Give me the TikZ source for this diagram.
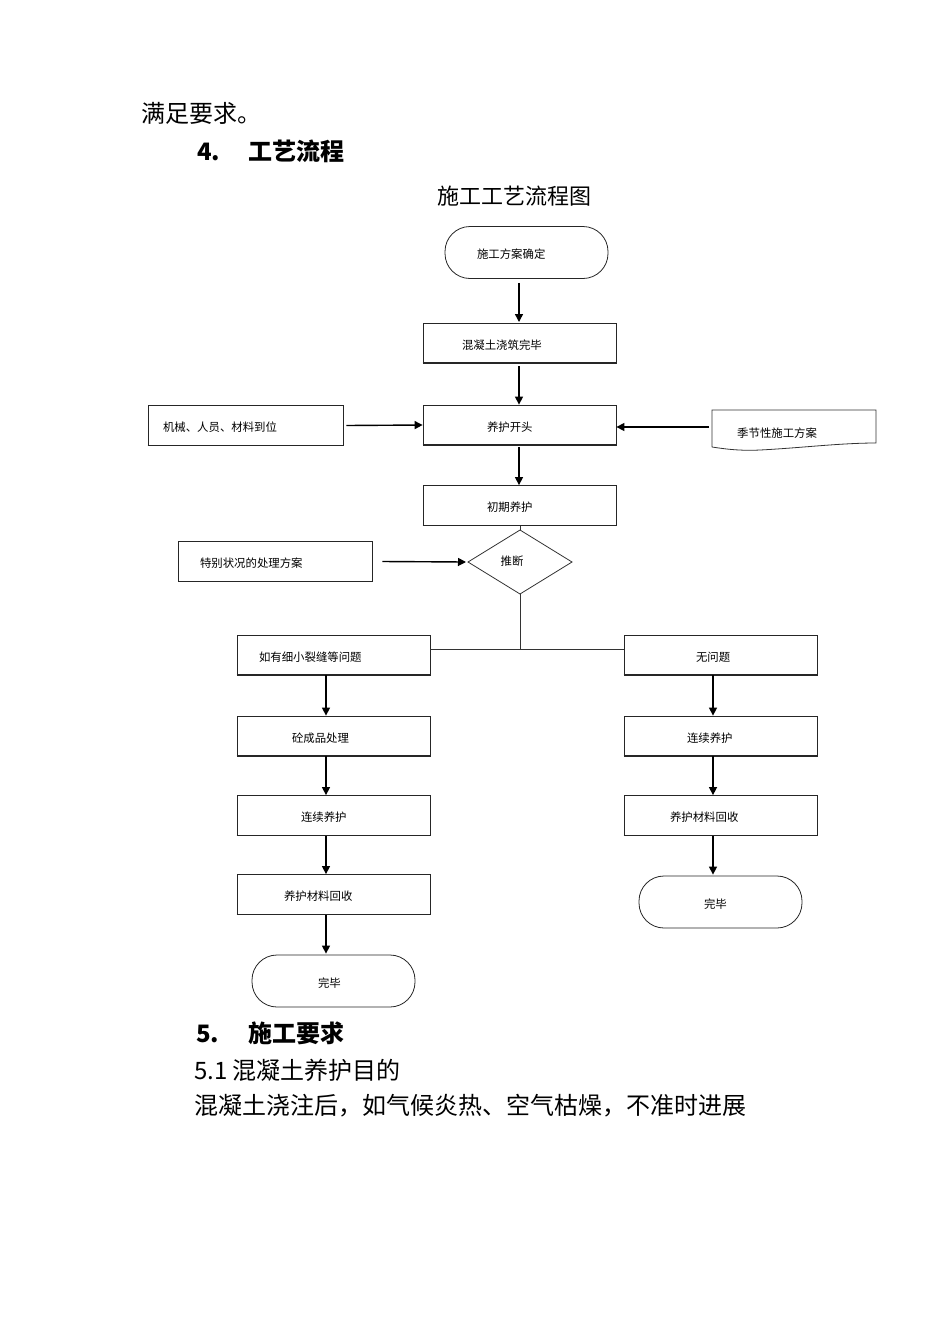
\documentclass[tikz,border=0pt]{standalone}
\usepackage{fontspec}
\setmainfont{Noto Sans CJK SC}
\usetikzlibrary{arrows.meta}
\tikzset{
  flbox/.style={draw=black!85, line width=0.8pt, align=left, inner ysep=0pt, minimum height=40pt, text height=12.4pt, text depth=0pt, font=\fontsize{11.4}{13}\selectfont},
  term/.style={flbox, rounded corners=25pt, minimum height=52pt},
  arr/.style={line width=1.4pt, -{Triangle[length=8pt,width=8pt]}},
  con/.style={line width=0.9pt, draw=black!80},
  big/.style={anchor=west, inner sep=0pt, font=\fontsize{24}{28}\selectfont},
}
\newcommand\flbottom[1]{\draw[line width=1.8pt, black!85] ([yshift=0.5pt]#1.south west) -- ([yshift=0.5pt]#1.south east);}
\begin{document}
\begin{tikzpicture}[x=1pt,y=-1pt]
\useasboundingbox (0,0) rectangle (950,1344);
% headings
\node[big] (h0) at (141,113) {满足要求。};
\node[big, font=\fontsize{24}{28}\selectfont\bfseries] (h4) at (197,151) {\makebox[51pt][l]{4.}工艺流程};
\node[inner sep=0pt, font=\fontsize{22}{26}\selectfont] (title) at (514,196) {施工工艺流程图};
% main column
\node[term, text width=99pt, inner xsep=32pt] (s) at (526.5,252.5) {施工方案确定};
\node[flbox, text width=115pt, inner xsep=39pt] (b1) at (519.5,343) {混凝土浇筑完毕};
\node[flbox, text width=65pt, inner xsep=64pt] (b2) at (519.5,425) {养护开头};
\node[flbox, text width=65pt, inner xsep=64pt] (b3) at (519.5,505.5) {初期养护};
\node[flbox, text width=165pt, inner xsep=15pt] (m) at (245.5,425.5) {机械、人员、材料到位};
\node[flbox, text width=150pt, inner xsep=22pt] (sp) at (275,561.5) {特别状况的处理方案};
% document shape
\draw[con, line width=0.8pt] (712,447) -- (712,410) -- (876,410) -- (876,443)
   .. controls (840,443) and (800,448) .. (760,450)
   .. controls (740,451) and (725,449) .. (712,447);
\node[inner sep=0pt, anchor=west, font=\fontsize{11.4}{13}\selectfont] (doc) at (737,433) {季节性施工方案};
% diamond
\draw[con, line width=0.8pt] (520,530) -- (572,562) -- (520,594) -- (468,562) -- cycle;
\coordinate (dt) at (520,530);
\coordinate (db) at (520,594);
\coordinate (dl) at (466,562);
\node[inner sep=0pt, font=\fontsize{11.4}{13}\selectfont] (d) at (512,561) {推断};
% branches
\node[flbox, text width=149pt, inner xsep=22pt] (l1) at (333.5,655) {如有细小裂缝等问题};
\node[flbox, text width=83pt, inner xsep=55pt] (l2) at (333.5,736) {砼成品处理};
\node[flbox, text width=65pt, inner xsep=64pt] (l3) at (333.5,815.5) {连续养护};
\node[flbox, text width=99pt, inner xsep=47pt] (l4) at (333.5,894.5) {养护材料回收};
\node[term, text width=31pt, inner xsep=66pt] (l5) at (333.5,981) {完毕};
\node[flbox, text width=49pt, inner xsep=72pt] (r1) at (720.5,655) {无问题};
\node[flbox, text width=67pt, inner xsep=63pt] (r2) at (720.5,736) {连续养护};
\node[flbox, text width=101pt, inner xsep=46pt] (r3) at (720.5,815.5) {养护材料回收};
\node[term, text width=33pt, inner xsep=65pt] (r4) at (720.5,902) {完毕};
\foreach \n in {b1,b2,b3,m,l1,l2,l3,l4,r1,r2,r3} {\flbottom{\n}}
% connectors
\draw[arr] ([yshift=-4pt]s.south -| 519,0) -- (519,322);
\draw[arr] (519,366) -- (b2.north -| 519,0);
\draw[arr] (519,447) -- (b3.north -| 519,0);
\draw[con] (b3.south -| dt) -- (dt);
\draw[arr] ([xshift=3pt]m.east) -- (b2.west);
\draw[arr] (709,427) -- (b2.east |- 0,427);
\draw[arr] ([xshift=10pt]sp.east) -- (dl);
\coordinate (j) at (520,649);
\draw[con] (db) -- (j);
\draw[con] (l1.east |- j) -- (r1.west |- j);
\draw[arr] (l1.south -| 326,0) -- (l2.north -| 326,0);
\draw[arr] (l2.south -| 326,0) -- (l3.north -| 326,0);
\draw[arr] (l3.south -| 326,0) -- (l4.north -| 326,0);
\draw[arr] (l4.south -| 326,0) -- ([yshift=1pt]l5.north -| 326,0);
\draw[arr] (r1.south -| 713,0) -- (r2.north -| 713,0);
\draw[arr] (r2.south -| 713,0) -- (r3.north -| 713,0);
\draw[arr] (r3.south -| 713,0) -- ([yshift=1pt]r4.north -| 713,0);
% bottom text
\node[big, font=\fontsize{24}{28}\selectfont\bfseries] (h5) at (196,1033) {\makebox[52pt][l]{5.}施工要求};
\node[big] (h51) at (194,1070) {5.1 混凝土养护目的};
\node[big] (p) at (194,1106) {混凝土浇注后，如气候炎热、空气枯燥，不准时进展};
\end{tikzpicture}
\end{document}
